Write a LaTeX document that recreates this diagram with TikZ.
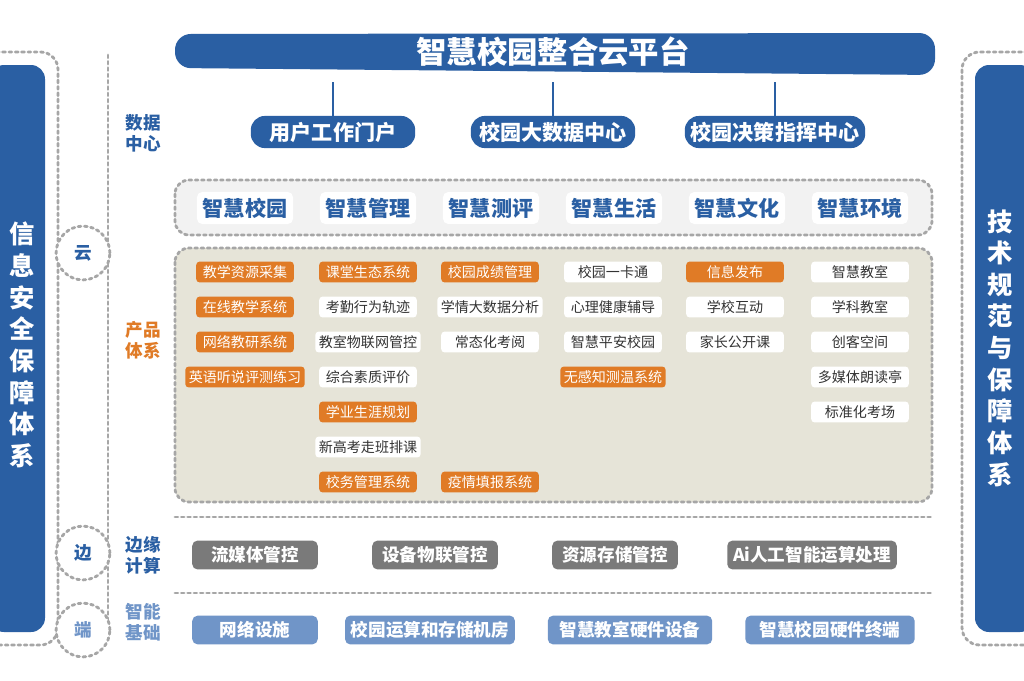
\documentclass[tikz,border=0pt]{standalone}
\usepackage{fontspec}
\setmainfont{Noto Sans CJK SC}
\usepackage{xcolor}
\definecolor{mainblue}{HTML}{2A5FA3}
\definecolor{lightblue}{HTML}{7095C8}
\definecolor{prodorange}{HTML}{E07B26}
\definecolor{edgegray}{HTML}{7A7A7A}
\definecolor{prodbg}{HTML}{E6E4D8}
\definecolor{catbg}{HTML}{F2F2F2}
\usetikzlibrary{positioning}
\tikzset{
  dotline/.style={draw=gray!70, line width=1.6pt, dotted, line cap=round},
  pill/.style={fill=mainblue, rounded corners=8pt, minimum width=165\px, minimum height=30\px, text=white, font=\bfseries\large},
  catbox/.style={fill=white, rounded corners=3pt, minimum width=96\px, minimum height=32\px, text=mainblue, font=\bfseries\large},
  prodO/.style={fill=prodorange, rounded corners=2pt, minimum width=98\px, minimum height=21\px, text=white, font=\footnotesize, inner sep=2pt},
  prodW/.style={fill=white, rounded corners=2pt, minimum width=98\px, minimum height=21\px, text=black!80, font=\footnotesize, inner sep=2pt},
  edgebox/.style={fill=edgegray, rounded corners=3pt, minimum height=29\px, text=white, font=\bfseries},
  basebox/.style={fill=lightblue, rounded corners=3pt, minimum height=27\px, text=white, font=\bfseries},
  sidelabel/.style={align=center, font=\bfseries, inner sep=0pt},
  ring/.style={dotline, circle, minimum size=54\px, fill=white, font=\bfseries, text=mainblue}
}
\newcommand{\px}{pt*0.567}
\begin{document}
\begin{tikzpicture}[x=0.02cm, y=-0.02cm]
  \useasboundingbox[fill=white] (0,0) rectangle (1024,680);

  % side frames
  \draw[dotline, rounded corners=10pt] (-10,52) -- (58,52) -- (58,645) -- (-10,645);
  \draw[dotline, rounded corners=10pt] (1034,52) -- (962,52) -- (962,645) -- (1034,645);
  \draw[dotline] (108,55) -- (108,640);
  \fill[mainblue, rounded corners=8pt] (-10,65) rectangle (45,632);
  \fill[mainblue, rounded corners=8pt] (975,65) rectangle (1034,632);
  \node[text=white, font=\bfseries\Large, align=center, inner sep=0pt] (safety) at (22,345) {信\\息\\安\\全\\保\\障\\体\\系};
  \node[text=white, font=\bfseries\Large, align=center, inner sep=0pt] (norm) at (1000,348) {技\\术\\规\\范\\与\\保\\障\\体\\系};
  \node[ring] (cloud) at (83,253) {云};
  \node[ring] (edge) at (83,553) {边};
  \node[ring, text=lightblue] (term) at (83,630) {端};

  % top platform
  \fill[mainblue, rounded corners=9pt] (175,34) -- (935,33) -- (935,75) -- (175,68) -- cycle;
  \node[text=white, font=\bfseries\LARGE] (platform) at (553,52) {智慧校园整合云平台};

  % data center
  \node[sidelabel, text=mainblue] (datalbl) at (143,133) {数据\\中心};
  \node[pill] (portal) at (333,132) {用户工作门户};
  \node[pill] (bigdata) at (553,132) {校园大数据中心};
  \node[pill] (command) at (775,132) {校园决策指挥中心};
  \foreach \n in {portal, bigdata, command}
    \draw[mainblue, line width=1.5pt] (\n.north |- 0,82) -- (\n.north);

  % categories
  \draw[dotline, fill=catbg, rounded corners=8pt] (175,180) rectangle (932,235);
  \foreach \t [count=\i] in {智慧校园,智慧管理,智慧测评,智慧生活,智慧文化,智慧环境}
    \node[catbox] (cat\i) at (245+123*\i-123,208) {\t};

  % products
  \node[sidelabel, text=prodorange] (prodlbl) at (143,340) {产品\\体系};
  \draw[dotline, fill=prodbg, rounded corners=8pt] (175,248) rectangle (932,502);
  \foreach \t/\s [count=\j] in {教学资源采集/O, 在线教学系统/O, 网络教研系统/O}
    \node[prod\s] (pa\j) at (245,237+35*\j) {\t};
  \node[prodO, minimum width=118\px] (pa4) at (245,377) {英语听说评测练习};
  \foreach \t/\s [count=\j] in {课堂生态系统/O, 考勤行为轨迹/W, 教室物联网管控/W, 综合素质评价/W, 学业生涯规划/O, 新高考走班排课/W, 校务管理系统/O}
    \node[prod\s] (pb\j) at (368,237+35*\j) {\t};
  \foreach \t/\s [count=\j] in {校园成绩管理/O, 学情大数据分析/W, 常态化考阅/W}
    \node[prod\s] (pc\j) at (490,237+35*\j) {\t};
  \node[prodO] (pc4) at (490,482) {疫情填报系统};
  \foreach \t/\s [count=\j] in {校园一卡通/W, 心理健康辅导/W, 智慧平安校园/W, 无感知测温系统/O}
    \node[prod\s] (pd\j) at (613,237+35*\j) {\t};
  \foreach \t/\s [count=\j] in {信息发布/O, 学校互动/W, 家长公开课/W}
    \node[prod\s] (pe\j) at (735,237+35*\j) {\t};
  \foreach \t [count=\j] in {智慧教室, 学科教室, 创客空间, 多媒体朗读亭, 标准化考场}
    \node[prodW] (pf\j) at (860,237+35*\j) {\t};

  % edge computing
  \draw[dotline] (175,517) -- (932,517);
  \node[sidelabel, text=mainblue] (edgelbl) at (143,555) {边缘\\计算};
  \node[edgebox, minimum width=126\px] (media) at (255,555) {流媒体管控};
  \node[edgebox, minimum width=126\px] (iot) at (435,555) {设备物联管控};
  \node[edgebox, minimum width=126\px] (storage) at (615,555) {资源存储管控};
  \node[edgebox, minimum width=155\px] (ai) at (812,555) {Ai人工智能运算处理};

  % base
  \draw[dotline] (175,593) -- (932,593);
  \node[sidelabel, text=lightblue] (baselbl) at (143,622) {智能\\基础};
  \node[basebox, minimum width=126\px] (net) at (255,630) {网络设施};
  \node[basebox, minimum width=164\px] (room) at (430,630) {校园运算和存储机房};
  \node[basebox, minimum width=165\px] (hw) at (630,630) {智慧教室硬件设备};
  \node[basebox, minimum width=170\px] (term2) at (830,630) {智慧校园硬件终端};
\end{tikzpicture}
\end{document}
